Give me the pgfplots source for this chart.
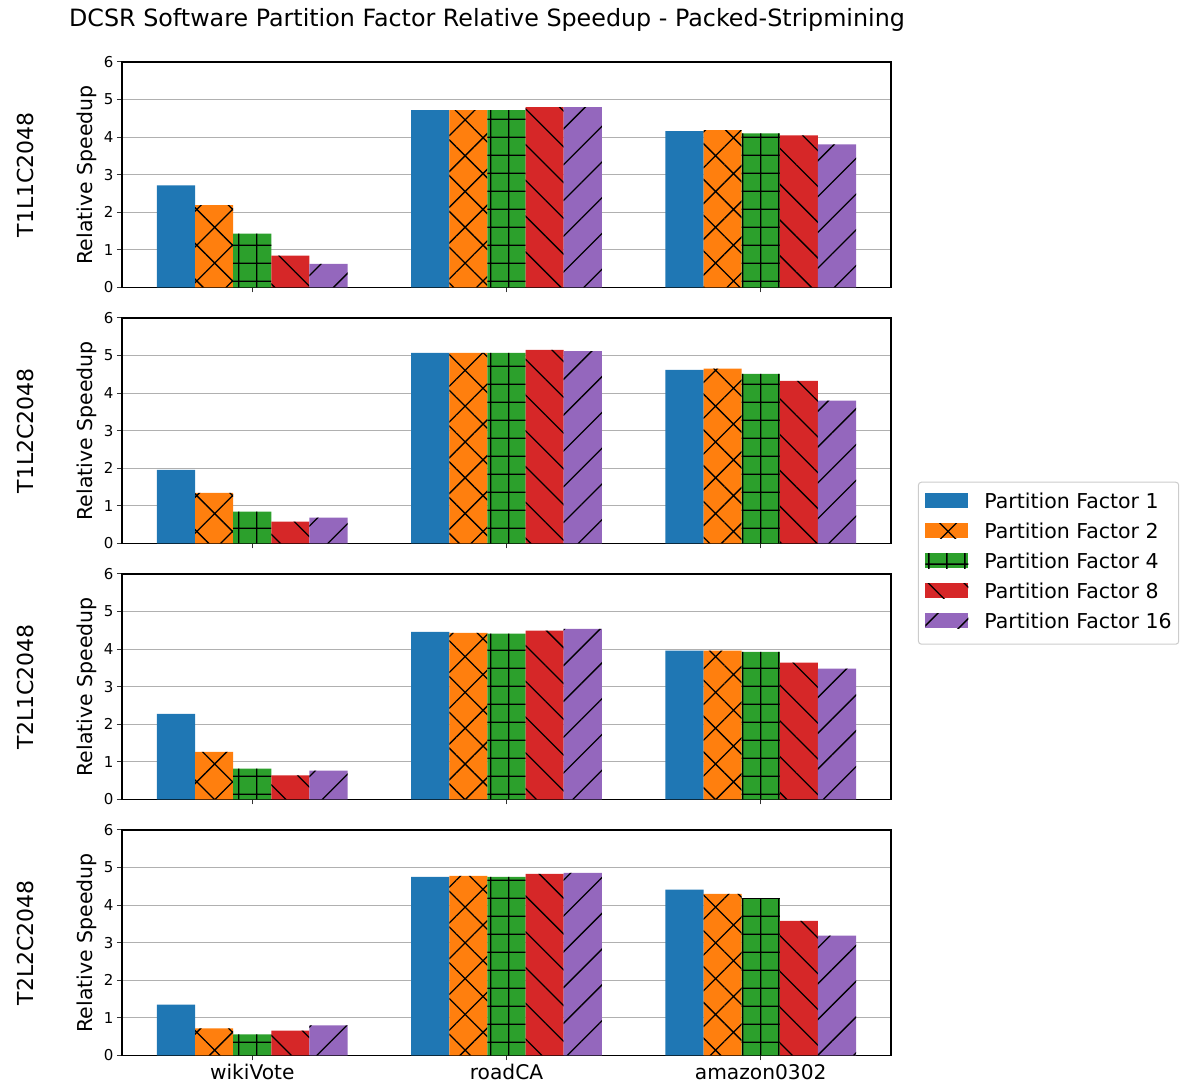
\documentclass[border=0pt]{standalone}
\usepackage{fontspec}
\setmainfont{DejaVu Sans}
\usepackage{pgfplots}
\usepackage{pgfplotstable}
\pgfplotsset{compat=1.18}
\usepgfplotslibrary{groupplots}
\usetikzlibrary{patterns,patterns.meta,calc}
\definecolor{c1}{HTML}{1F77B4}
\definecolor{c2}{HTML}{FF7F0E}
\definecolor{c3}{HTML}{2CA02C}
\definecolor{c4}{HTML}{D62728}
\definecolor{c5}{HTML}{9467BD}

\pgfdeclarepatternformonly{mygrid}{\pgfpointorigin}{\pgfqpoint{17.7pt}{17.7pt}}{\pgfqpoint{17.7pt}{17.7pt}}{%
  \pgfsetlinewidth{1.4pt}%
  \pgfpathmoveto{\pgfqpoint{8.85pt}{-1pt}}\pgfpathlineto{\pgfqpoint{8.85pt}{18.7pt}}%
  \pgfpathmoveto{\pgfqpoint{-1pt}{8.85pt}}\pgfpathlineto{\pgfqpoint{18.7pt}{8.85pt}}%
  \pgfusepath{stroke}}

\pgfplotstableread{
x p1 p2 p4 p8 p16
0 2.72 2.19 1.43 0.85 0.63
1 4.72 4.72 4.72 4.80 4.80
2 4.16 4.19 4.10 4.05 3.81
}\tA
\pgfplotstableread{
x p1 p2 p4 p8 p16
0 1.96 1.35 0.85 0.58 0.69
1 5.07 5.07 5.07 5.15 5.12
2 4.62 4.65 4.51 4.33 3.80
}\tB
\pgfplotstableread{
x p1 p2 p4 p8 p16
0 2.28 1.27 0.82 0.64 0.77
1 4.46 4.43 4.41 4.49 4.54
2 3.96 3.96 3.93 3.64 3.48
}\tC
\pgfplotstableread{
x p1 p2 p4 p8 p16
0 1.35 0.72 0.56 0.66 0.80
1 4.75 4.78 4.75 4.83 4.86
2 4.41 4.30 4.19 3.58 3.19
}\tD

\pgfplotsset{
  pf1/.style={/pgf/bar shift=-0.3, fill=c1, draw=none},
  pf2/.style={/pgf/bar shift=-0.15, fill=c2, draw=none,
    postaction={pattern={Hatch[angle=45,distance=25.3pt,line width=1.3pt]}, pattern color=black}},
  pf4/.style={/pgf/bar shift=0, fill=c3, draw=none,
    postaction={pattern=mygrid, pattern color=black}},
  pf8/.style={/pgf/bar shift=0.15, fill=c4, draw=none,
    postaction={pattern={Lines[angle=-45,distance=25.3pt,line width=1.3pt]}, pattern color=black}},
  pf16/.style={/pgf/bar shift=0.3, fill=c5, draw=none,
    postaction={pattern={Lines[angle=45,distance=25.3pt,line width=1.3pt]}, pattern color=black}},
}

\begin{document}
\begin{tikzpicture}
\begin{groupplot}[
  group style={group name=G, group size=1 by 4, vertical sep=30.5pt},
  width=769pt, height=225.5pt, scale only axis,
  ybar, /pgf/bar width=0.15,
  legend image code/.code={\path[#1, sharp corners] (0pt,-5pt) rectangle (43pt,10pt);},
  xmin=-0.5125, xmax=2.5125, ymin=0, ymax=6,
  ytick={0,1,2,3,4,5,6}, xtick={0,1,2}, xticklabels={},
  ymajorgrids, grid style={color=black!31, line width=1pt},
  axis line style={black, line width=1.1pt},
  tick style={black!80, line width=1pt},
  tick align=outside, tick pos=left, major tick length=5pt,
  /pgf/number format/assume math mode=true,
  y tick label style={font=\fontsize{15}{18}\selectfont},
  x tick label style={font=\fontsize{20.2}{24}\selectfont},
  ylabel={Relative Speedup},
  ylabel style={font=\fontsize{20.5}{24}\selectfont, at={(axis description cs:-0.0455,0.5)}, anchor=center},
]
\nextgroupplot
\addplot[pf1] table[x=x,y=p1]{\tA};
\addplot[pf2] table[x=x,y=p2]{\tA};
\addplot[pf4] table[x=x,y=p4]{\tA};
\addplot[pf8] table[x=x,y=p8]{\tA};
\addplot[pf16] table[x=x,y=p16]{\tA};
\nextgroupplot[
  legend style={at={(1.035,0.274)}, anchor=north west,
    draw=black!20, line width=1pt, rounded corners=3pt,
    inner xsep=7pt, inner ysep=10.5pt,
    font=\fontsize{20.5}{24}\selectfont,
    nodes={inner sep=0pt, text height=16pt, text depth=5pt},
    row sep=9pt, column sep=16pt},
  legend cell align=left]
\addplot[pf1] table[x=x,y=p1]{\tB};
\addplot[pf2] table[x=x,y=p2]{\tB};
\addplot[pf4] table[x=x,y=p4]{\tB};
\addplot[pf8] table[x=x,y=p8]{\tB};
\addplot[pf16] table[x=x,y=p16]{\tB};
\legend{Partition Factor 1,Partition Factor 2,Partition Factor 4,Partition Factor 8,Partition Factor 16}
\nextgroupplot
\addplot[pf1] table[x=x,y=p1]{\tC};
\addplot[pf2] table[x=x,y=p2]{\tC};
\addplot[pf4] table[x=x,y=p4]{\tC};
\addplot[pf8] table[x=x,y=p8]{\tC};
\addplot[pf16] table[x=x,y=p16]{\tC};
\nextgroupplot[xticklabels={wikiVote,roadCA,amazon0302}]
\addplot[pf1] table[x=x,y=p1]{\tD};
\addplot[pf2] table[x=x,y=p2]{\tD};
\addplot[pf4] table[x=x,y=p4]{\tD};
\addplot[pf8] table[x=x,y=p8]{\tD};
\addplot[pf16] table[x=x,y=p16]{\tD};
\end{groupplot}
\node[anchor=base, font=\fontsize{23.8}{28}\selectfont] at ($(G c1r1.north west)+(365pt,35pt)$) {DCSR Software Partition Factor Relative Speedup - Packed-Stripmining};
\node[rotate=90, font=\fontsize{22}{26}\selectfont] at ($(G c1r1.west)+(-97pt,0pt)$) {T1L1C2048};
\node[rotate=90, font=\fontsize{22}{26}\selectfont] at ($(G c1r2.west)+(-97pt,0pt)$) {T1L2C2048};
\node[rotate=90, font=\fontsize{22}{26}\selectfont] at ($(G c1r3.west)+(-97pt,0pt)$) {T2L1C2048};
\node[rotate=90, font=\fontsize{22}{26}\selectfont] at ($(G c1r4.west)+(-97pt,0pt)$) {T2L2C2048};
\pgfresetboundingbox
\path[use as bounding box] ($(G c1r1.north west)+(-122pt,62pt)$) rectangle ($(G c1r1.north west)+(1059pt,-1024pt)$);
\end{tikzpicture}
\end{document}
